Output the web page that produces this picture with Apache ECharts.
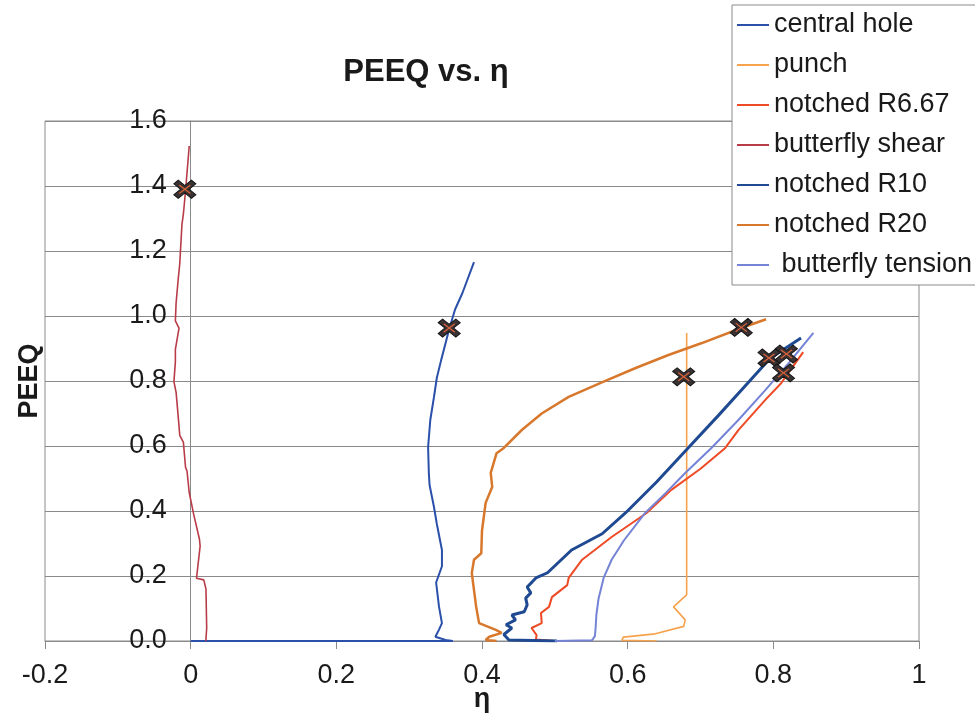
<!DOCTYPE html>
<html>
<head>
<meta charset="utf-8">
<script src="https://cdn.jsdelivr.net/npm/echarts@6/dist/echarts.min.js"></script>
<style>
html,body{margin:0;padding:0;background:#fff;}
#chart{width:975px;height:713px;}
</style>
</head>
<body>
<div id="chart"></div>
<script>
// ---- data (η, PEEQ) ----
const seriesNames = ['central hole','punch','notched R6.67','butterfly shear','notched R10','notched R20',' butterfly tension'];

const centralHole = [[0,0],[0.36,0],[0.35,0.003],[0.336,0.013],[0.341,0.035],[0.345,0.055],[0.341,0.105],[0.337,0.18],[0.345,0.23],[0.345,0.28],[0.338,0.36],[0.334,0.413],[0.328,0.48],[0.327,0.517],[0.326,0.597],[0.329,0.68],[0.334,0.75],[0.338,0.81],[0.344,0.865],[0.355,0.96],[0.363,1.02],[0.373,1.07],[0.389,1.166]];

const punch = [[0.64,0],[0.592,0.002],[0.594,0.012],[0.638,0.022],[0.677,0.045],[0.679,0.065],[0.663,0.105],[0.673,0.126],[0.681,0.142],[0.681,0.948]];

const notchedR667 = [[0.50,0],[0.474,0.005],[0.475,0.018],[0.468,0.04],[0.482,0.055],[0.481,0.086],[0.492,0.105],[0.496,0.135],[0.517,0.172],[0.519,0.194],[0.537,0.249],[0.578,0.32],[0.626,0.394],[0.660,0.465],[0.700,0.53],[0.734,0.594],[0.752,0.649],[0.789,0.742],[0.811,0.794],[0.841,0.889]];

const butterflyShear = [[0.021,0],[0.021,0.007],[0.022,0.04],[0.021,0.16],[0.018,0.188],[0.008,0.193],[0.013,0.292],[0.012,0.314],[0.004,0.391],[0.001,0.424],[-0.002,0.457],[-0.005,0.523],[-0.007,0.534],[-0.010,0.611],[-0.015,0.633],[-0.017,0.688],[-0.020,0.765],[-0.023,0.798],[-0.021,0.858],[-0.021,0.897],[-0.016,0.963],[-0.021,0.985],[-0.020,1.04],[-0.017,1.116],[-0.015,1.16],[-0.012,1.281],[-0.010,1.314],[-0.007,1.386],[-0.002,1.523]];

const notchedR10 = [[0.503,0],[0.437,0.003],[0.430,0.02],[0.441,0.04],[0.433,0.05],[0.446,0.065],[0.441,0.08],[0.458,0.09],[0.462,0.111],[0.460,0.132],[0.467,0.148],[0.462,0.166],[0.469,0.182],[0.474,0.194],[0.490,0.21],[0.523,0.28],[0.565,0.33],[0.597,0.394],[0.640,0.49],[0.683,0.594],[0.725,0.695],[0.765,0.794],[0.796,0.871],[0.838,0.932]];

const notchedR20 = [[0.42,0],[0.405,0.003],[0.41,0.013],[0.427,0.025],[0.419,0.034],[0.396,0.055],[0.392,0.105],[0.386,0.209],[0.389,0.25],[0.399,0.27],[0.400,0.34],[0.405,0.425],[0.414,0.474],[0.412,0.517],[0.42,0.578],[0.430,0.594],[0.455,0.65],[0.482,0.70],[0.519,0.751],[0.563,0.794],[0.611,0.84],[0.656,0.88],[0.701,0.916],[0.756,0.963],[0.790,0.99]];

const butterflyTension = [[0.50,0],[0.551,0.002],[0.555,0.015],[0.556,0.04],[0.557,0.08],[0.560,0.13],[0.567,0.194],[0.578,0.25],[0.595,0.31],[0.624,0.394],[0.652,0.455],[0.679,0.517],[0.715,0.594],[0.752,0.68],[0.789,0.772],[0.821,0.855],[0.855,0.948]];

const failureX = [-0.008, 0.355, 0.756, 0.677, 0.794, 0.818, 0.814];
const failureY = [1.39, 0.963, 0.965, 0.813, 0.871, 0.883, 0.825];

const xTicks = {min: -0.2, max: 1, interval: 0.2};
const yTicks = {min: 0, max: 1.6, interval: 0.2};

// ---- chart ----
const FONT = '"Liberation Sans", Arial, sans-serif';
const colors = ['#2a50aa','#f7a24c','#ef4a26','#b83c48','#1f4a92','#d8782c','#7583d6'];
const widths = [2, 1.6, 2, 1.6, 3, 2.5, 2];
const lineData = [centralHole, punch, notchedR667, butterflyShear, notchedR10, notchedR20, butterflyTension];

const series = lineData.map((d, i) => ({
  name: seriesNames[i],
  type: 'line',
  data: d,
  showSymbol: false,
  symbol: 'none',
  smooth: false,
  lineStyle: {color: colors[i], width: widths[i]},
  itemStyle: {color: colors[i]},
  z: 2 + i,
  animation: false
}));

const failurePts = failureX.map((x, i) => [x, failureY[i]]);
const bigX = 'path://M0,2 L2,0 L5,3 L8,0 L10,2 L7,5 L10,8 L8,10 L5,7 L2,10 L0,8 L3,5 Z';
const thinX = 'path://M0,0.8 L0.8,0 L5,4.2 L9.2,0 L10,0.8 L5.8,5 L10,9.2 L9.2,10 L5,5.8 L0.8,10 L0,9.2 L4.2,5 Z';
series.push({
  name: 'failure', type: 'scatter', data: failurePts, symbol: bigX, symbolSize: [22, 18],
  itemStyle: {color: '#3a3232', borderColor: '#151515', borderWidth: 1, opacity: 1}, z: 20, animation: false
});
series.push({
  name: 'failure2', type: 'scatter', data: failurePts, symbol: thinX, symbolSize: [12, 9],
  itemStyle: {color: '#e0643a', opacity: 1}, z: 21, animation: false, silent: true
});

const GRID_LEFT = 45, GRID_RIGHT = 56;
const plotW = 975 - GRID_LEFT - GRID_RIGHT;
const yAxisShift = plotW * (0 - xTicks.min) / (xTicks.max - xTicks.min);

const chart = echarts.init(document.getElementById('chart'), null, {renderer: 'canvas'});
chart.setOption({
  backgroundColor: '#ffffff',
  animation: false,
  textStyle: {fontFamily: FONT},
  title: {
    text: 'PEEQ vs. η',
    left: 426, top: 57, textAlign: 'center',
    padding: 0,
    textStyle: {fontFamily: FONT, fontSize: 31, fontWeight: 'bold', color: '#1a1a1a'}
  },
  legend: {
    data: seriesNames,
    orient: 'vertical',
    left: 732, top: 5,
    padding: [5, 8, 5, 5],
    itemGap: 10,
    itemWidth: 32, itemHeight: 2,
    icon: 'rect',
    backgroundColor: '#ffffff',
    borderColor: '#8a8a8a', borderWidth: 1,
    textStyle: {fontFamily: FONT, fontSize: 27, color: '#1a1a1a', lineHeight: 30}
  },
  grid: {
    left: GRID_LEFT, right: GRID_RIGHT, top: 121, bottom: 72,
    containLabel: false, outerBoundsMode: 'none',
    show: true, borderColor: '#8a8a8a', borderWidth: 1, backgroundColor: 'transparent'
  },
  xAxis: {
    type: 'value', min: xTicks.min, max: xTicks.max, interval: xTicks.interval,
    name: 'η', nameLocation: 'middle', nameGap: 45, nameMoveOverlap: false,
    nameTextStyle: {fontFamily: FONT, fontSize: 27, fontWeight: 'bold', color: '#1a1a1a'},
    axisLine: {show: true, onZero: false, lineStyle: {color: '#8a8a8a', width: 1}},
    axisTick: {show: true, inside: false, length: 8, lineStyle: {color: '#8a8a8a'}},
    splitLine: {show: false},
    axisLabel: {fontFamily: FONT, fontSize: 27, color: '#1a1a1a', margin: 21}
  },
  yAxis: {
    type: 'value', min: yTicks.min, max: yTicks.max, interval: yTicks.interval,
    offset: -yAxisShift,
    name: 'PEEQ', nameLocation: 'middle', nameGap: 148, nameRotate: 90, nameMoveOverlap: false,
    nameTextStyle: {fontFamily: FONT, fontSize: 27, fontWeight: 'bold', color: '#1a1a1a'},
    axisLine: {show: true, onZero: false, lineStyle: {color: '#8a8a8a', width: 1}},
    axisTick: {show: false},
    splitLine: {show: true, lineStyle: {color: '#8a8a8a', width: 1}},
    axisLabel: {fontFamily: FONT, fontSize: 27, color: '#1a1a1a', margin: 24,
      formatter: v => v.toFixed(1)}
  },
  series: series
});
</script>
</body>
</html>
